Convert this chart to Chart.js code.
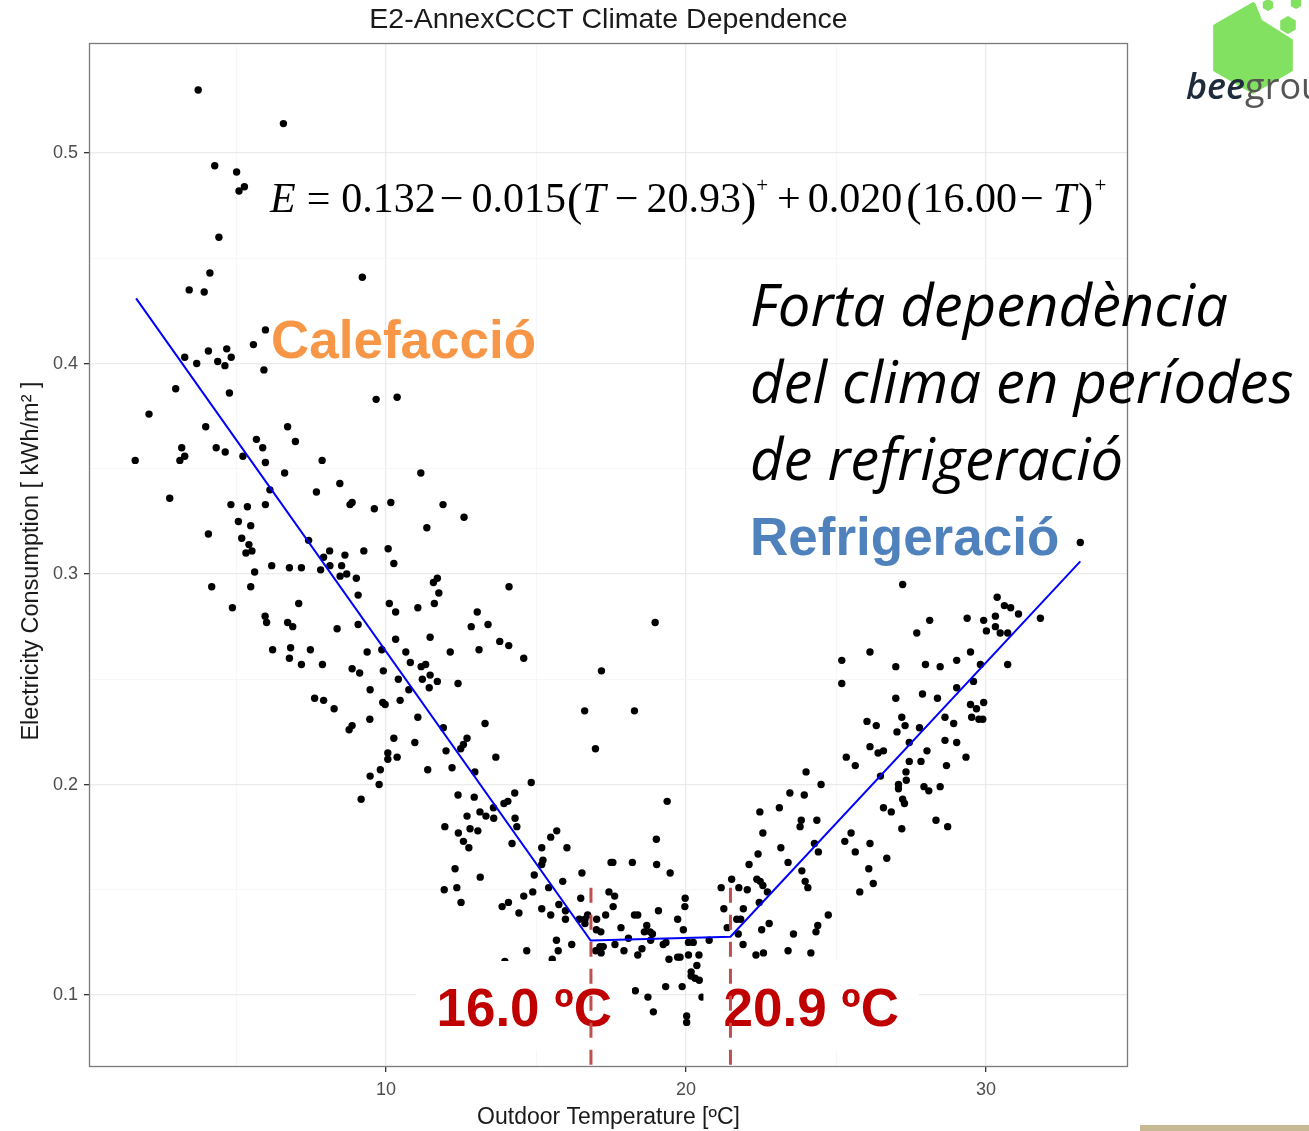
<!DOCTYPE html>
<html>
<head>
<meta charset="utf-8">
<title>E2-AnnexCCCT Climate Dependence</title>
<script src="https://cdn.jsdelivr.net/npm/chart.js@4.4.1/dist/chart.umd.min.js"></script>
<style>
  html, body { margin: 0; padding: 0; background: #fff; }
  #wrap { position: relative; width: 1309px; height: 1131px; }
</style>
</head>
<body>
<div id="wrap"><canvas id="climateChart"></canvas></div>
<script>
// Daily consumption vs outdoor temperature (kWh/m2)
const tempC = [
  3.74,6.58,4.29,5.02,5.10,5.28,4.43,4.13,3.44,3.94,5.98,5.58,
  4.08,4.69,3.29,3.69,4.39,4.63,4.84,5.93,2.99,4.78,2.10,3.99,6.72,5.68,6.98,5.89,3.19,3.29,3.13,4.34,4.64,5.23,1.64,5.98,7.87,6.62,8.46,6.13,7.68,8.80,2.79,4.83,5.38,5.98,5.08,5.49,4.08,5.19,5.43,5.33,5.53,7.42,8.12,7.92,8.63,6.19,6.78,7.18,7.82,8.13,8.52,8.47,8.69,5.62,4.19,5.49,7.09,
  9.21,9.67,10.37,11.16,8.87,9.61,10.16,11.90,12.60,11.36,9.26,10.07,10.26,9.01,9.07,10.11,11.58,11.71,11.76,14.10,11.61,
  4.88,5.97,6.02,6.72,6.89,8.37,9.07,10.32,11.06,6.22,6.82,7.48,6.78,7.18,7.88,8.87,9.12,9.37,9.86,10.32,11.47,10.66,11.17,11.32,9.91,10.41,11.21,11.47,11.44,10.76,9.47,7.62,7.92,8.27,9.89,9.97,10.47,11.06,9.46,8.87,8.77,10.26,10.96,10.06,10.06,10.37,11.39,9.81,9.47,9.77,9.17,10.81,
  13.04,12.84,13.40,13.79,14.09,13.10,12.14,14.59,11.71,12.40,17.18,16.62,18.28,16.98,11.91,13.30,12.70,12.58,12.49,12.00,13.66,12.20,12.96,14.84,12.40,12.94,14.29,13.93,14.06,13.58,13.13,13.33,13.59,12.70,14.30,14.36,11.96,12.41,12.80,13.06,12.58,12.76,14.20,15.49,15.69,15.19,16.03,15.23,17.56,18.21,
  18.97,19.37,19.01,19.02,25.19,25.19,26.13,26.03,26.13,25.34,25.64,24.00,24.50,23.46,23.94,22.46,23.11,23.84,23.80,24.36,22.56,24.28,25.50,25.29,26.13,22.40,23.16,24.41,25.64,23.40,22.10,
  33.14,27.22,30.37,30.61,30.82,31.08,31.81,30.31,29.37,29.92,28.12,30.01,30.31,30.47,30.72,27.69,29.48,27.98,28.47,26.99,29.02,29.81,30.72,29.58,29.02,27.88,28.38,26.99,29.48,29.92,29.68,29.52,29.76,29.89,28.63,28.92,27.19,27.30,26.34,27.78,27.03,28.63,29.02,27.44,26.40,26.58,28.03,29.33,27.44,27.83,28.68,26.48,27.33,27.08,27.08,27.34,27.93,28.09,28.47,27.22,27.28,26.58,26.84,28.33,28.72,27.19,26.69,26.09,26.24,25.79,24.74,
  12.30,13.14,11.94,12.36,12.50,13.87,14.08,14.43,14.59,14.89,14.94,15.19,15.42,15.89,16.53,17.50,15.19,15.49,15.76,15.98,15.98,16.49,16.44,16.63,16.72,16.63,17.02,17.01,17.16,17.43,17.62,17.57,17.32,17.83,15.68,16.19,15.74,14.69,17.13,17.24,16.99,17.17,17.63,17.93,15.54,13.96,
  19.47,18.28,18.39,18.69,18.61,18.80,18.88,19.08,19.97,19.96,19.72,19.91,18.08,18.39,18.53,18.82,19.24,19.33,19.43,19.72,19.80,20.08,20.24,20.08,20.43,20.36,20.17,20.17,20.30,20.44,20.77,18.31,18.73,19.32,19.87,20.53,18.91,20.02,20.02,
  21.26,21.17,21.52,21.76,22.04,21.91,22.36,22.47,22.56,22.71,22.44,21.69,21.82,21.37,21.74,22.52,22.77,21.90,22.33,22.58,23.86,23.97,24.06,23.58,23.40,24.16,24.39,24.33
];
const kwh = [
  0.530,0.514,0.494,0.491,0.482,0.484,0.460,0.443,0.435,0.434,0.416,0.409,
  0.406,0.407,0.403,0.400,0.401,0.399,0.403,0.397,0.388,0.386,0.376,0.370,0.370,0.364,0.363,0.360,0.360,0.356,0.354,0.360,0.358,0.356,0.354,0.353,0.354,0.348,0.343,0.340,0.339,0.333,0.336,0.333,0.332,0.333,0.325,0.323,0.319,0.317,0.314,0.310,0.311,0.316,0.311,0.308,0.309,0.304,0.303,0.303,0.302,0.304,0.304,0.299,0.300,0.301,0.294,0.294,0.286,
  0.441,0.383,0.384,0.348,0.334,0.331,0.334,0.333,0.327,0.322,0.311,0.312,0.305,0.298,0.290,0.286,0.296,0.298,0.291,0.294,0.286,
  0.284,0.280,0.277,0.277,0.275,0.274,0.276,0.282,0.284,0.264,0.265,0.264,0.260,0.257,0.257,0.255,0.253,0.263,0.264,0.269,0.270,0.263,0.256,0.257,0.254,0.250,0.250,0.252,0.246,0.245,0.245,0.241,0.240,0.236,0.239,0.238,0.240,0.232,0.231,0.228,0.226,0.222,0.220,0.215,0.212,0.213,0.207,0.207,0.204,0.200,0.193,0.258,
  0.282,0.275,0.276,0.268,0.266,0.264,0.263,0.260,0.249,0.248,0.254,0.235,0.235,0.217,0.227,0.229,0.222,0.219,0.217,0.216,0.213,0.208,0.206,0.201,0.195,0.194,0.196,0.191,0.192,0.189,0.187,0.185,0.184,0.185,0.184,0.180,0.180,0.177,0.179,0.178,0.173,0.170,0.172,0.175,0.178,0.170,0.170,0.164,0.163,0.163,
  0.277,0.192,0.174,0.162,0.259,0.248,0.263,0.230,0.218,0.213,0.209,0.206,0.200,0.196,0.195,0.187,0.189,0.183,0.180,0.183,0.177,0.172,0.177,0.173,0.172,0.167,0.170,0.168,0.168,0.163,0.162,
  0.315,0.295,0.289,0.285,0.284,0.281,0.279,0.280,0.279,0.278,0.278,0.273,0.275,0.272,0.272,0.272,0.263,0.257,0.256,0.256,0.259,0.257,0.257,0.249,0.246,0.243,0.241,0.241,0.238,0.239,0.236,0.232,0.231,0.231,0.232,0.229,0.232,0.228,0.228,0.227,0.225,0.221,0.220,0.220,0.215,0.216,0.216,0.213,0.211,0.211,0.209,0.204,0.206,0.200,0.198,0.202,0.199,0.197,0.199,0.193,0.191,0.189,0.187,0.183,0.180,0.179,0.165,0.160,0.153,0.149,0.138,
  0.160,0.156,0.150,0.151,0.144,0.142,0.144,0.139,0.147,0.149,0.157,0.162,0.151,0.154,0.158,0.163,0.141,0.138,0.143,0.140,0.136,0.146,0.136,0.136,0.138,0.134,0.136,0.131,0.130,0.149,0.147,0.142,0.138,0.132,0.126,0.124,0.121,0.121,0.123,0.123,0.121,0.120,0.124,0.121,0.117,0.116,
  0.158,0.138,0.138,0.133,0.130,0.130,0.129,0.140,0.146,0.142,0.136,0.131,0.127,0.119,0.122,0.126,0.124,0.125,0.117,0.118,0.118,0.125,0.125,0.119,0.119,0.114,0.111,0.109,0.108,0.107,0.126,0.102,0.099,0.104,0.104,0.099,0.092,0.090,0.087,
  0.141,0.151,0.155,0.151,0.150,0.141,0.155,0.154,0.152,0.149,0.144,0.136,0.136,0.132,0.129,0.131,0.134,0.124,0.119,0.120,0.159,0.154,0.151,0.129,0.121,0.120,0.133,0.130
];

// Piecewise-linear fit drawn over the cloud
const fitT = [1.67, 16.82, 21.48, 33.14];
const fitE = [0.431, 0.1259, 0.1277, 0.306];

// Change points of the fit
const breakT = [16.83, 21.48];
const breakTop = 0.151;
const breakLabels = ['16.0 ºC', '20.9 ºC'];

// Axis ranges and ticks
const X_MIN = 0.1, X_MAX = 34.73;
const Y_MIN = 0.0658, Y_MAX = 0.5523;
const xTicks = [5, 10, 15, 20, 25, 30];
const yTicks = [0.1, 0.15, 0.2, 0.25, 0.3, 0.35, 0.4, 0.45, 0.5];

const TITLE = 'E2-AnnexCCCT Climate Dependence';
const X_TITLE = 'Outdoor Temperature [ºC]';
const Y_TITLE = 'Electricity Consumption [ kWh/m² ]';
const HEAT_LABEL = 'Calefacció';
const COOL_LABEL = 'Refrigeració';
const NOTE_LINES = ['Forta dependència', 'del clima en períodes', 'de refrigeració'];

// [text, gap before (px), style]
const EQ_PARTS = [
  ['E', 0, 'i'], ['=', 11, 'r'], ['0.132', 11, 'r'], ['\u2212', 4, 'r'], ['0.015', 8, 'r'],
  ['(', 1, 'p'], ['T', 0, 'i'], ['\u2212', 9, 'r'], ['20.93', 8, 'r'], [')', 0, 'p'], ['+', 0, 's'],
  ['+', 9, 'r'], ['0.020', 7, 'r'], ['(', 4, 'p'], ['16.00', 1, 'r'], ['\u2212', 3, 'r'], ['T', 9, 'i'], [')', 2, 'p'], ['+', 1, 's']
];

const isMajorX = v => v % 10 === 0;
const isMajorY = v => Math.round(v * 100) % 10 === 0;

function hexPath(ctx, cx, cy, r) {
  ctx.beginPath();
  for (let i = 0; i < 6; i++) {
    const a = Math.PI / 180 * (60 * i - 90);
    const px = cx + r * Math.cos(a), py = cy + r * Math.sin(a);
    i === 0 ? ctx.moveTo(px, py) : ctx.lineTo(px, py);
  }
  ctx.closePath();
}

function drawEquation(ctx, x0, base) {
  let x = x0;
  EQ_PARTS.forEach(([txt, gap, st]) => {
    x += gap;
    let y = base;
    if (st === 'i') ctx.font = 'italic 42px "Liberation Serif"';
    else if (st === 'p') { ctx.font = '46px "Liberation Serif"'; y = base + 3; }
    else if (st === 's') { ctx.font = '21px "Liberation Serif"'; y = base - 20; }
    else ctx.font = '42px "Liberation Serif"';
    ctx.fillText(txt, x, y);
    x += ctx.measureText(txt).width;
  });
}

const decor = {
  id: 'decor',
  beforeDraw(chart) {
    const ctx = chart.ctx;
    ctx.save();
    ctx.fillStyle = '#fff';
    ctx.fillRect(0, 0, chart.width, chart.height);
    ctx.restore();
  },
  afterDatasetDraw(chart, args) {
    if (args.index !== 0) return;
    // white label boxes over the lower part of the panel, then the labels
    const ctx = chart.ctx, xs = chart.scales.x;
    const base = 1026;
    ctx.save();
    ctx.font = 'bold 53px "Liberation Sans"';
    ctx.textBaseline = 'alphabetic';
    breakLabels.forEach((lbl, i) => {
      const bx = xs.getPixelForValue(breakT[i]);
      const w = ctx.measureText(lbl).width;
      const left = i === 0 ? bx + 21 - w : bx - 7;
      ctx.fillStyle = '#fff';
      ctx.fillRect(left - 20, base - 65, w + 40, 89);
      ctx.fillStyle = '#c00000';
      ctx.fillText(lbl, left, base);
    });
    ctx.restore();
  },
  afterDraw(chart) {
    const ctx = chart.ctx, a = chart.chartArea;
    ctx.save();
    // panel border
    ctx.strokeStyle = '#7a7a7a';
    ctx.lineWidth = 1.3;
    ctx.strokeRect(a.left + 0.5, a.top + 0.5, a.right - a.left - 1, a.bottom - a.top - 1);

    // titles
    ctx.fillStyle = '#1a1a1a';
    ctx.textAlign = 'center';
    ctx.textBaseline = 'alphabetic';
    ctx.font = '28.5px "Liberation Sans"';
    ctx.fillText(TITLE, (a.left + a.right) / 2, 28);
    ctx.font = '23px "Liberation Sans"';
    ctx.fillText(X_TITLE, (a.left + a.right) / 2, 1124);
    ctx.save();
    ctx.translate(38, (a.top + a.bottom) / 2 + 6);
    ctx.rotate(-Math.PI / 2);
    ctx.font = '23.5px "Liberation Sans"';
    ctx.fillText(Y_TITLE, 0, 0);
    ctx.restore();

    // fitted equation
    ctx.textAlign = 'left';
    ctx.fillStyle = '#000';
    drawEquation(ctx, 270, 212);

    // heating / cooling labels
    ctx.font = 'bold 53px "Liberation Sans"';
    ctx.fillStyle = '#f79646';
    ctx.fillText(HEAT_LABEL, 271, 358);
    ctx.fillStyle = '#4f81bd';
    ctx.fillText(COOL_LABEL, 750, 555);

    // note on the right
    ctx.fillStyle = '#000';
    ctx.font = 'italic 58px "Open Sans"';
    NOTE_LINES.forEach((ln, i) => ctx.fillText(ln, 750, 326 + i * 77));

    // logo
    ctx.fillStyle = '#82e160';
    hexPath(ctx, 1253, 48, 46);
    ctx.fill();
    ctx.fillStyle = '#fff';
    ctx.beginPath();
    ctx.moveTo(1254, 0); ctx.lineTo(1262, 20); ctx.lineTo(1300, 44); ctx.lineTo(1309, 44); ctx.lineTo(1309, 0);
    ctx.closePath(); ctx.fill();
    ctx.fillStyle = '#82e160';
    [[1268, 5, 6], [1296, 3, 6], [1288, 25, 9]].forEach(([cx, cy, r]) => { hexPath(ctx, cx, cy, r); ctx.fill(); });
    ctx.font = 'italic 600 36px "Open Sans"';
    ctx.fillStyle = '#1d2b3a';
    ctx.fillText('bee', 1186, 99);
    const bw = ctx.measureText('bee').width;
    ctx.font = '36px "Open Sans"';
    ctx.fillStyle = '#555';
    ctx.fillText('grou', 1186 + bw, 99);

    // footer rule
    ctx.fillStyle = '#c6b994';
    ctx.fillRect(1140, 1125, 169, 6);
    ctx.restore();
  }
};

const ctxEl = document.getElementById('climateChart');
new Chart(ctxEl, {
  type: 'scatter',
  data: {
    datasets: [
      {
        label: 'observations',
        data: tempC.map((t, i) => ({ x: t, y: kwh[i] })),
        pointRadius: 3.7, pointBackgroundColor: '#000', pointBorderWidth: 0,
        order: 3
      },
      {
        label: 'change point low',
        data: [{ x: breakT[0], y: breakTop }, { x: breakT[0], y: Y_MIN }],
        showLine: true, borderColor: '#c0504d', borderWidth: 3, borderDash: [15, 12],
        pointRadius: 0, order: 2
      },
      {
        label: 'change point high',
        data: [{ x: breakT[1], y: breakTop }, { x: breakT[1], y: Y_MIN }],
        showLine: true, borderColor: '#c0504d', borderWidth: 3, borderDash: [15, 12],
        pointRadius: 0, order: 2
      },
      {
        label: 'fit',
        data: fitT.map((t, i) => ({ x: t, y: fitE[i] })),
        showLine: true, borderColor: '#0000ff', borderWidth: 2, tension: 0,
        pointRadius: 0, order: 1
      }
    ]
  },
  options: {
    responsive: true,
    maintainAspectRatio: false,
    animation: false,
    layout: { padding: { left: 0, right: 181, top: 43, bottom: 0 } },
    plugins: { legend: { display: false }, tooltip: { enabled: false } },
    scales: {
      x: {
        type: 'linear', min: X_MIN, max: X_MAX,
        afterBuildTicks: s => { s.ticks = xTicks.map(v => ({ value: v })); },
        afterFit: s => { s.height = 64; },
        border: { display: false },
        grid: {
          color: c => (c.tick && isMajorX(c.tick.value)) ? '#ebebeb' : '#f5f5f5',
          lineWidth: c => (c.tick && isMajorX(c.tick.value)) ? 1.3 : 0.8,
          tickColor: c => (c.tick && isMajorX(c.tick.value)) ? '#333' : 'rgba(0,0,0,0)',
          tickLength: 5
        },
        ticks: {
          autoSkip: false, maxRotation: 0, padding: 7, color: '#4d4d4d',
          font: { family: 'Liberation Sans', size: 18 },
          callback: v => isMajorX(v) ? String(v) : ''
        }
      },
      y: {
        type: 'linear', min: Y_MIN, max: Y_MAX,
        afterBuildTicks: s => { s.ticks = yTicks.map(v => ({ value: v })); },
        afterFit: s => { s.width = 89; },
        border: { display: false },
        grid: {
          color: c => (c.tick && isMajorY(c.tick.value)) ? '#ebebeb' : '#f5f5f5',
          lineWidth: c => (c.tick && isMajorY(c.tick.value)) ? 1.3 : 0.8,
          tickColor: c => (c.tick && isMajorY(c.tick.value)) ? '#333' : 'rgba(0,0,0,0)',
          tickLength: 5
        },
        ticks: {
          padding: 6, color: '#4d4d4d',
          font: { family: 'Liberation Sans', size: 18 },
          callback: v => isMajorY(v) ? v.toFixed(1) : ''
        }
      }
    }
  },
  plugins: [decor]
});
</script>
</body>
</html>
